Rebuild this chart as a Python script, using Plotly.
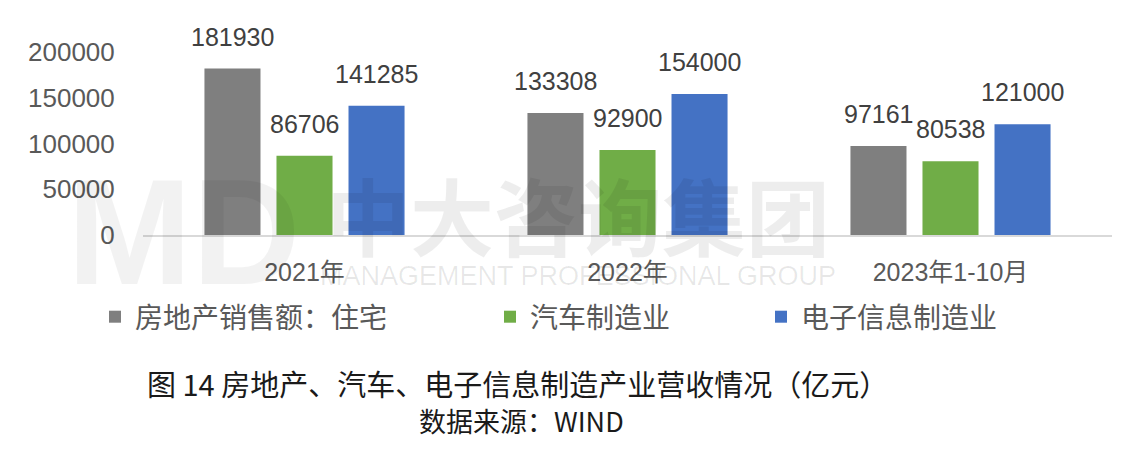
import plotly.graph_objects as go

# data (亿元)
categories = ["2021年", "2022年", "2023年1-10月"]
series_names = ["房地产销售额：住宅", "汽车制造业", "电子信息制造业"]
real_estate = [181930, 133308, 97161]
auto = [86706, 92900, 80538]
electronics = [141285, 154000, 121000]
y_ticks = [0, 50000, 100000, 150000, 200000]

colors = ["#7f7f7f", "#70ad47", "#4472c4"]
num_font = "Liberation Sans, Noto Sans CJK SC, sans-serif"
cjk_font = "Noto Sans CJK SC, sans-serif"

# plot area in pixels, used to place the page text in paper coords
PL, PR, PT, PB = 143, 1112, 52, 235
def px(x):
    return (x - PL) / (PR - PL)
def py(y):
    return (PB - y) / (PB - PT)

fig = go.Figure()
all_series = [real_estate, auto, electronics]
legend_ids = ["legend", "legend2", "legend3"]
for name, vals, col, lg in zip(series_names, all_series, colors, legend_ids):
    fig.add_trace(go.Bar(x=categories, y=vals, name=name, marker_color=col,
                         marker_line_width=0, legend=lg, showlegend=True))

# value labels sit a bit above each bar
for i, vals in enumerate(all_series):
    for cat, v in zip(categories, vals):
        fig.add_annotation(x=cat, y=v, text=str(v), showarrow=False,
                           xshift=(i - 1) * 72, yshift=16, yanchor="bottom",
                           font=dict(family=num_font, size=25, color="#404040"))

def page_text(x, y, text, size, color, family=cjk_font):
    fig.add_annotation(xref="paper", yref="paper", x=px(x), y=py(y), text=text,
                       xanchor="center", yanchor="middle", showarrow=False,
                       font=dict(family=family, size=size, color=color))

# faint watermark
page_text(578, 213, "<b>中大咨询集团</b>", 84, "rgba(0,0,0,0.07)")
page_text(578, 276, "MANAGEMENT PROFESSIONAL GROUP", 27, "rgba(0,0,0,0.09)", "Liberation Sans")
page_text(183, 232, "<b>MD</b>", 150, "rgba(0,0,0,0.05)", "Liberation Sans")

# caption and source
page_text(517, 383, "图 14 房地产、汽车、电子信息制造产业营收情况（亿元）", 29, "#1a1a1a")
page_text(521, 421, "数据来源：WIND", 27, "#1a1a1a")

leg_style = dict(orientation="h", xref="container", yref="container", yanchor="middle",
                 y=1 - 317 / 456, font=dict(family=cjk_font, size=28, color="#595959"),
                 bgcolor="rgba(0,0,0,0)", itemwidth=30)

fig.update_layout(
    width=1140, height=456,
    margin=dict(l=PL, r=1140 - PR, t=PT, b=456 - PB, autoexpand=False),
    paper_bgcolor="white", plot_bgcolor="white",
    barmode="group", bargap=0.331, bargroupgap=0.222,
    showlegend=True,
    legend=dict(x=95 / 1140, **leg_style),
    legend2=dict(x=490 / 1140, **leg_style),
    legend3=dict(x=761 / 1140, **leg_style),
    font=dict(family=num_font, size=25, color="#595959"),
)
fig.update_yaxes(range=[0, 200000], tickvals=y_ticks, tickformat="d",
                 showgrid=False, zeroline=False, showline=False,
                 ticks="outside", ticklen=22, tickcolor="rgba(0,0,0,0)",
                 tickfont=dict(family=num_font, size=26, color="#595959"))
fig.update_xaxes(showline=True, linecolor="#d9d9d9", linewidth=1.5, showgrid=False,
                 ticks="outside", ticklen=14, tickcolor="rgba(0,0,0,0)",
                 tickfont=dict(family=num_font, size=25, color="#595959"))

# drop the page's default body margin so the figure sits at the window corner
fig.write_html("out.html", config={"displayModeBar": False},
               post_script="document.body.style.margin='0';")
